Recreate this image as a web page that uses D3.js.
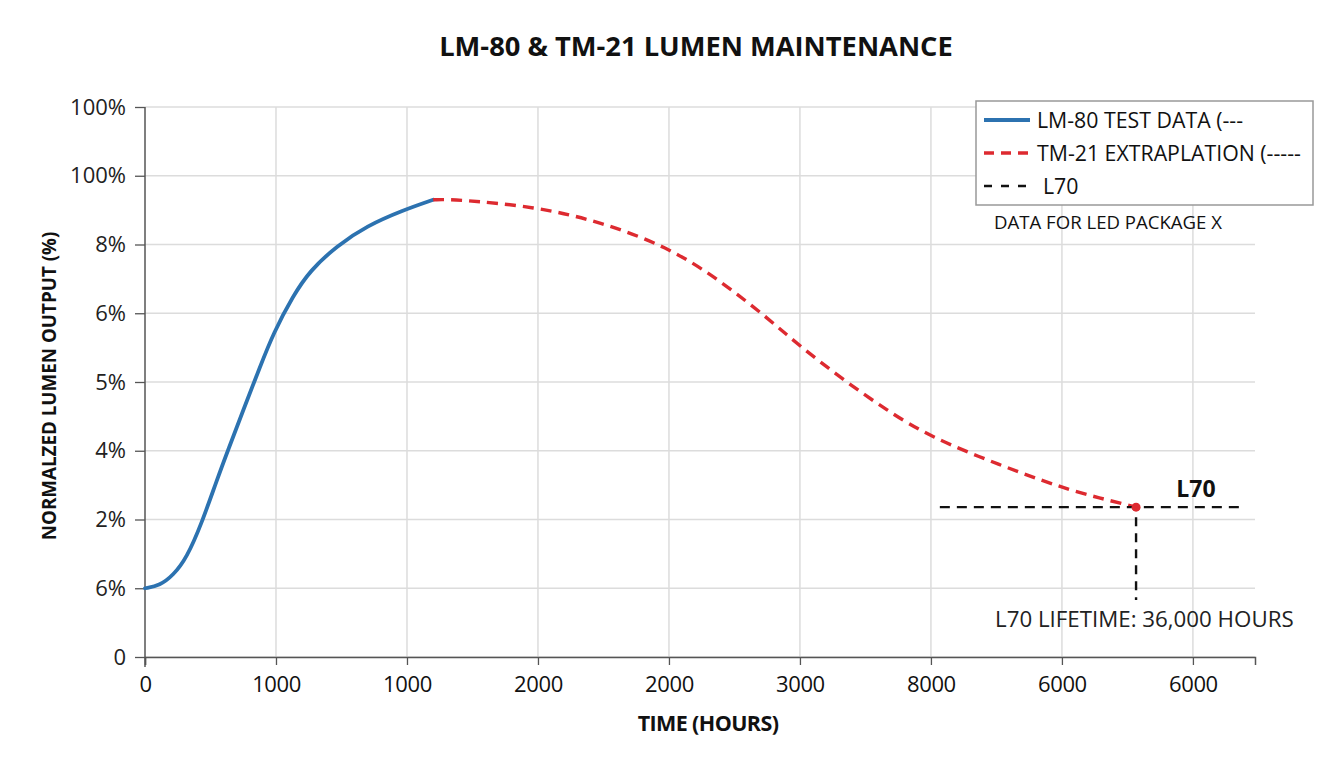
<!DOCTYPE html>
<html><head><meta charset="utf-8">
<script src="https://cdn.jsdelivr.net/npm/d3@7"></script>
<style>
body{margin:0;background:#fff;}
text{font-family:"Open Sans","Noto Sans",sans-serif;}
</style></head>
<body><svg id="c" width="1344" height="768"></svg>
<script>
// ---- data ----
const xTickValues = [0, 5000, 10000, 15000, 20000, 25000, 30000, 35000, 40000];
const xTickLabels = ["0","1000","1000","2000","2000","3000","8000","6000","6000"];
const yTickValues = [0, 10, 20, 30, 40, 50, 60, 70, 80];
const yTickLabels = ["0","6%","2%","4%","5%","6%","8%","100%","100%"];

const lm80Hours = [0, 570, 1080, 1590, 2160, 2740, 3180, 3750, 4390, 4900, 5660, 6300, 7320, 8460, 9860, 11000];
const lm80Values = [10.0, 10.4, 11.9, 14.4, 19.4, 25.7, 30.2, 35.9, 42.2, 47.1, 52.6, 56.2, 59.8, 62.7, 65.0, 66.5];

const tm21Hours = [11000, 11770, 14950, 17370, 19940, 21950, 23860, 24940, 26660, 28310, 29970, 32640, 34930, 36450, 37830];
const tm21Values = [66.5, 66.6, 65.5, 63.3, 59.7, 54.8, 49.0, 45.4, 40.3, 35.9, 32.0, 27.9, 24.7, 23.1, 21.8];

const l70Level = 21.8;
const l70Hours = 37830;
const l70LineStart = 30340, l70LineEnd = 41800;
const l70DropTo = 8.3;

const legendLabels = ["LM-80 TEST DATA (---", "TM-21 EXTRAPLATION (-----", "L70"];

// ---- layout ----
const svg = d3.select("#c");
const m = {l:145, r:1255, t:107, b:657};
const x = d3.scaleLinear().domain([0, 42370]).range([m.l, m.r]);
const y = d3.scaleLinear().domain([0, 80]).range([m.b, m.t]);
const blue = "#2c72b0", red = "#dd2a30";

// grid
svg.append("g").selectAll("line").data(yTickValues).join("line")
  .attr("x1", m.l).attr("x2", m.r).attr("y1", d=>y(d)).attr("y2", d=>y(d))
  .attr("stroke", "#dcdcdc").attr("stroke-width", 1.5);
svg.append("g").selectAll("line").data(xTickValues.slice(1)).join("line")
  .attr("x1", d=>x(d)).attr("x2", d=>x(d)).attr("y1", m.t).attr("y2", m.b)
  .attr("stroke", "#dcdcdc").attr("stroke-width", 1.5);

// axes
const xAxis = d3.axisBottom(x).tickValues(xTickValues).tickFormat((d,i)=>xTickLabels[i]).tickSizeOuter(0).tickSize(8).tickPadding(11);
const gx = svg.append("g").attr("transform", `translate(0,${m.b})`).call(xAxis);
gx.select(".domain").attr("stroke", "#555").attr("stroke-width", 1.5);
gx.selectAll(".tick line").attr("stroke", "#555").attr("stroke-width", 1.3);
gx.selectAll("text").attr("font-size", 22).attr("fill", "#111").style("letter-spacing","-0.4px").style("font-family","'Open Sans',sans-serif");

const yAxis = d3.axisLeft(y).tickValues(yTickValues).tickFormat((d,i)=>yTickLabels[i]).tickSizeOuter(0).tickSize(10).tickPadding(9);
const gy = svg.append("g").attr("transform", `translate(${m.l},0)`).call(yAxis);
gy.select(".domain").attr("stroke", "#555").attr("stroke-width", 1.5);
gy.selectAll(".tick line").attr("stroke", "#555").attr("stroke-width", 1.3);
gy.selectAll("text").attr("font-size", 22).attr("fill", "#222").style("font-family","'Open Sans',sans-serif");
gy.select(".domain").attr("d", `M0,${m.t}V${m.b + 10}`);

// lines
const line = d3.line().x(d=>x(d[0])).y(d=>y(d[1])).curve(d3.curveBasis);
svg.append("path").datum(lm80Hours.map((h,i)=>[h, lm80Values[i]]))
  .attr("d", line).attr("fill","none").attr("stroke", blue).attr("stroke-width", 3.8).attr("stroke-linecap","round");
svg.append("path").datum(tm21Hours.map((h,i)=>[h, tm21Values[i]]))
  .attr("d", line).attr("fill","none").attr("stroke", red).attr("stroke-width", 3.4).attr("stroke-dasharray","11,7");

// L70 lines
svg.append("line").attr("x1", x(l70LineStart)).attr("x2", x(l70LineEnd)).attr("y1", y(l70Level)).attr("y2", y(l70Level))
  .attr("stroke", "#111").attr("stroke-width", 2.4).attr("stroke-dasharray","10,7");
svg.append("line").attr("x1", x(l70Hours)).attr("x2", x(l70Hours)).attr("y1", y(l70Level)+10).attr("y2", y(l70DropTo))
  .attr("stroke", "#111").attr("stroke-width", 2.4).attr("stroke-dasharray","9,7");
svg.append("circle").attr("cx", x(l70Hours)).attr("cy", y(l70Level)).attr("r", 4.5).attr("fill", red);

svg.append("text").attr("x", 1196).attr("y", 497).attr("text-anchor","middle").attr("font-size", 23).attr("font-weight","bold").attr("fill","#111").text("L70");
svg.append("text").attr("x", 995).attr("y", 627).attr("font-size", 22.3).attr("fill","#222").text("L70 LIFETIME: 36,000 HOURS");

// title & axis labels
svg.append("text").attr("x", 696).attr("y", 56).attr("text-anchor","middle").attr("font-size", 27.3).attr("font-weight","bold").attr("fill","#111").text("LM-80 & TM-21 LUMEN MAINTENANCE");
svg.append("text").attr("x", 708).attr("y", 731).attr("text-anchor","middle").attr("font-size", 21.5).attr("font-weight","bold").attr("fill","#111").style("letter-spacing","-0.6px").text("TIME (HOURS)");
svg.append("text").attr("transform","translate(56,386) rotate(-90)").attr("text-anchor","middle").attr("font-size", 18.8).attr("font-weight","bold").attr("fill","#111").text("NORMALZED LUMEN OUTPUT (%)");

// legend
const lg = svg.append("g");
lg.append("rect").attr("x", 976).attr("y", 101).attr("width", 337).attr("height", 104).attr("fill","#fff").attr("stroke","#999").attr("stroke-width", 1.5);
const legStyles = [{c:blue, w:3.8, dash:null}, {c:red, w:3.4, dash:"10,7"}, {c:"#111", w:2.4, dash:"8,9"}];
legendLabels.forEach((lab,i)=>{
  const yy = 120 + i*33;
  lg.append("line").attr("x1", 984).attr("x2", 1030).attr("y1", yy).attr("y2", yy)
    .attr("stroke", legStyles[i].c).attr("stroke-width", legStyles[i].w).attr("stroke-dasharray", legStyles[i].dash);
  lg.append("text").attr("x", i===2 ? 1043 : 1037).attr("y", yy+7.5).attr("font-size", 21.3).attr("fill","#111").text(lab);
});
svg.append("text").attr("x", 994).attr("y", 229).attr("font-size", 18.6).attr("fill","#111").text("DATA FOR LED PACKAGE X");
</script></body></html>
